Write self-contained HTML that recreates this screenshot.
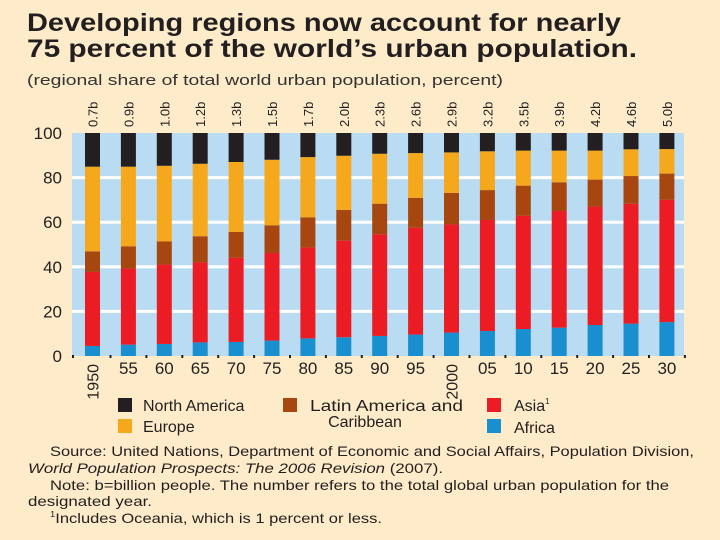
<!DOCTYPE html>
<html><head><meta charset="utf-8"><style>
html,body{margin:0;padding:0;background:#fdebc9;}
svg{display:block;font-family:"Liberation Sans Narrow","Liberation Sans",sans-serif;}
</style></head><body>
<svg id="chart" width="720" height="540" viewBox="0 0 720 540">
<rect x="0" y="0" width="720" height="540" fill="#fdebc9"/>
<text x="27" y="31" font-size="25" font-weight="bold" fill="#231f20" textLength="594" lengthAdjust="spacingAndGlyphs">Developing regions now account for nearly</text>
<text x="27" y="57" font-size="25" font-weight="bold" fill="#231f20" textLength="610" lengthAdjust="spacingAndGlyphs">75 percent of the world’s urban population.</text>
<text x="27" y="85" font-size="14.5" fill="#333" textLength="476" lengthAdjust="spacingAndGlyphs">(regional share of total world urban population, percent)</text>
<g id="plot"></g>
<g>
<rect x="118" y="398" width="14" height="14" fill="#231f20"/>
<text x="143" y="411" font-size="16" fill="#231f20">North America</text>
<rect x="118" y="419" width="14" height="14" fill="#f5a81c"/>
<text x="143" y="432" font-size="16" fill="#231f20">Europe</text>
<rect x="283" y="398" width="14" height="14" fill="#a8460f"/>
<text x="310" y="411" font-size="16" fill="#231f20" textLength="153" lengthAdjust="spacingAndGlyphs">Latin America and</text>
<text x="365" y="427" font-size="16" fill="#231f20" text-anchor="middle">Caribbean</text>
<rect x="487" y="398" width="14" height="14" fill="#ec1c24"/>
<text x="514" y="411" font-size="16" fill="#231f20">Asia<tspan font-size="8" dy="-7">1</tspan></text>
<rect x="487" y="419" width="14" height="14" fill="#1a8fd0"/>
<text x="514" y="433" font-size="16" fill="#231f20">Africa</text>
</g>
<g font-size="14" fill="#231f20">
<text x="50" y="456" textLength="644" lengthAdjust="spacingAndGlyphs">Source: United Nations, Department of Economic and Social Affairs, Population Division,</text>
<text x="28" y="473" textLength="415" lengthAdjust="spacingAndGlyphs"><tspan font-style="italic">World Population Prospects: The 2006 Revision</tspan> (2007).</text>
<text x="50" y="490" textLength="619" lengthAdjust="spacingAndGlyphs">Note: b=billion people. The number refers to the total global urban population for the</text>
<text x="28" y="506" textLength="124" lengthAdjust="spacingAndGlyphs">designated year.</text>
<text x="50" y="523" textLength="332" lengthAdjust="spacingAndGlyphs"><tspan font-size="8" dy="-6">1</tspan><tspan dy="6">Includes Oceania, which is 1 percent or less.</tspan></text>
</g>
</svg>
<script>
const years = ["1950","55","60","65","70","75","80","85","90","95","2000","05","10","15","20","25","30"];
const totals = ["0.7b","0.9b","1.0b","1.2b","1.3b","1.5b","1.7b","2.0b","2.3b","2.6b","2.9b","3.2b","3.5b","3.9b","4.2b","4.6b","5.0b"];
const africa = [4.5,5.1,5.4,6.1,6.3,6.9,7.9,8.4,9.0,9.6,10.5,11.2,12.1,12.7,13.9,14.5,15.2];
const asia = [33.2,34.1,35.6,35.9,37.8,39.3,40.8,43.3,45.6,47.9,48.5,49.8,50.8,52.3,53.1,53.8,54.9];
const latinAmerica = [9.2,10.0,10.4,11.7,11.5,12.4,13.5,13.8,13.7,13.4,14.1,13.4,13.5,12.9,12.1,12.4,11.7];
const europe = [38.0,35.7,33.9,32.5,31.4,29.4,27.0,24.3,22.4,20.1,18.2,17.4,15.7,14.2,13.0,12.0,11.0];
const northAmerica = [15.1,15.1,14.7,13.8,13.0,12.0,10.8,10.2,9.3,9.0,8.7,8.2,7.9,7.9,7.9,7.3,7.2];
const yTicks = [0,20,40,60,80,100];

const NS = "http://www.w3.org/2000/svg";
const plot = document.getElementById("plot");
const X0 = 72, X1 = 684, Y0 = 356, Y1 = 133;
const firstBar = 85, step = 35.9, barW = 15;
function yScale(v){ return Y0 - (v/100)*(Y0-Y1); }
function xScale(i){ return firstBar + i*step; }
function mk(tag, attrs){ const e = document.createElementNS(NS, tag); for (const k in attrs) e.setAttribute(k, attrs[k]); plot.appendChild(e); return e; }

const bg = mk("rect",{x:X0,y:Y1,width:X1-X0,height:Y0-Y1,fill:"#b9dcf3"});



yTicks.forEach(t=>{
  if (t>0 && t<100){
    const g = mk("line",{x1:X0,x2:X1,y1:yScale(t),y2:yScale(t),stroke:"#ffffff","stroke-width":3});
    
    
  }
  const lb = mk("text",{x:62,y:yScale(t)+6,"font-size":17,"text-anchor":"end",fill:"#231f20"});
  lb.textContent = t;
  
  
});

const series = [
  {vals:africa,color:"#1a8fd0",name:"africa"},
  {vals:asia,color:"#ec1c24",name:"asia"},
  {vals:latinAmerica,color:"#a8460f",name:"latin-america"},
  {vals:europe,color:"#f5a81c",name:"europe"},
  {vals:northAmerica,color:"#231f20",name:"north-america"}
];

years.forEach((yr,i)=>{
  let cum = 0;
  const x = xScale(i);
  series.forEach((s,si)=>{
    let v = s.vals[i];
    if (si === series.length-1) v = 100 - cum;
    const top = yScale(cum+v), bot = yScale(cum);
    const r = mk("rect",{x:x,y:top,width:barW,height:bot-top,fill:s.color});
    
    
    cum += v;
  });
  const cx = x + barW/2;
  if (yr === "1950" || yr === "2000"){
    const t = mk("text",{x:0,y:0,"font-size":16,fill:"#231f20","text-anchor":"end",transform:`translate(${cx+6},${Y0+8}) rotate(-90)`});
    t.textContent = yr;
    
    
  } else {
    const t = mk("text",{x:cx,y:Y0+18,"font-size":17,fill:"#231f20","text-anchor":"middle"});
    t.textContent = yr;
    
    
  }
  const tl = mk("text",{x:0,y:0,"font-size":13,fill:"#231f20","text-anchor":"start",transform:`translate(${cx+5},${Y1-6}) rotate(-90)`});
  tl.textContent = totals[i];
  
  
  if (i < years.length){
    const d = mk("rect",{x:x+barW+9.5,y:Y0-1,width:2,height:3,fill:"#231f20"});
    
    
  }
});
const d0 = mk("rect",{x:X0,y:Y0-1,width:2,height:3,fill:"#231f20"});


</script>
</body></html>
